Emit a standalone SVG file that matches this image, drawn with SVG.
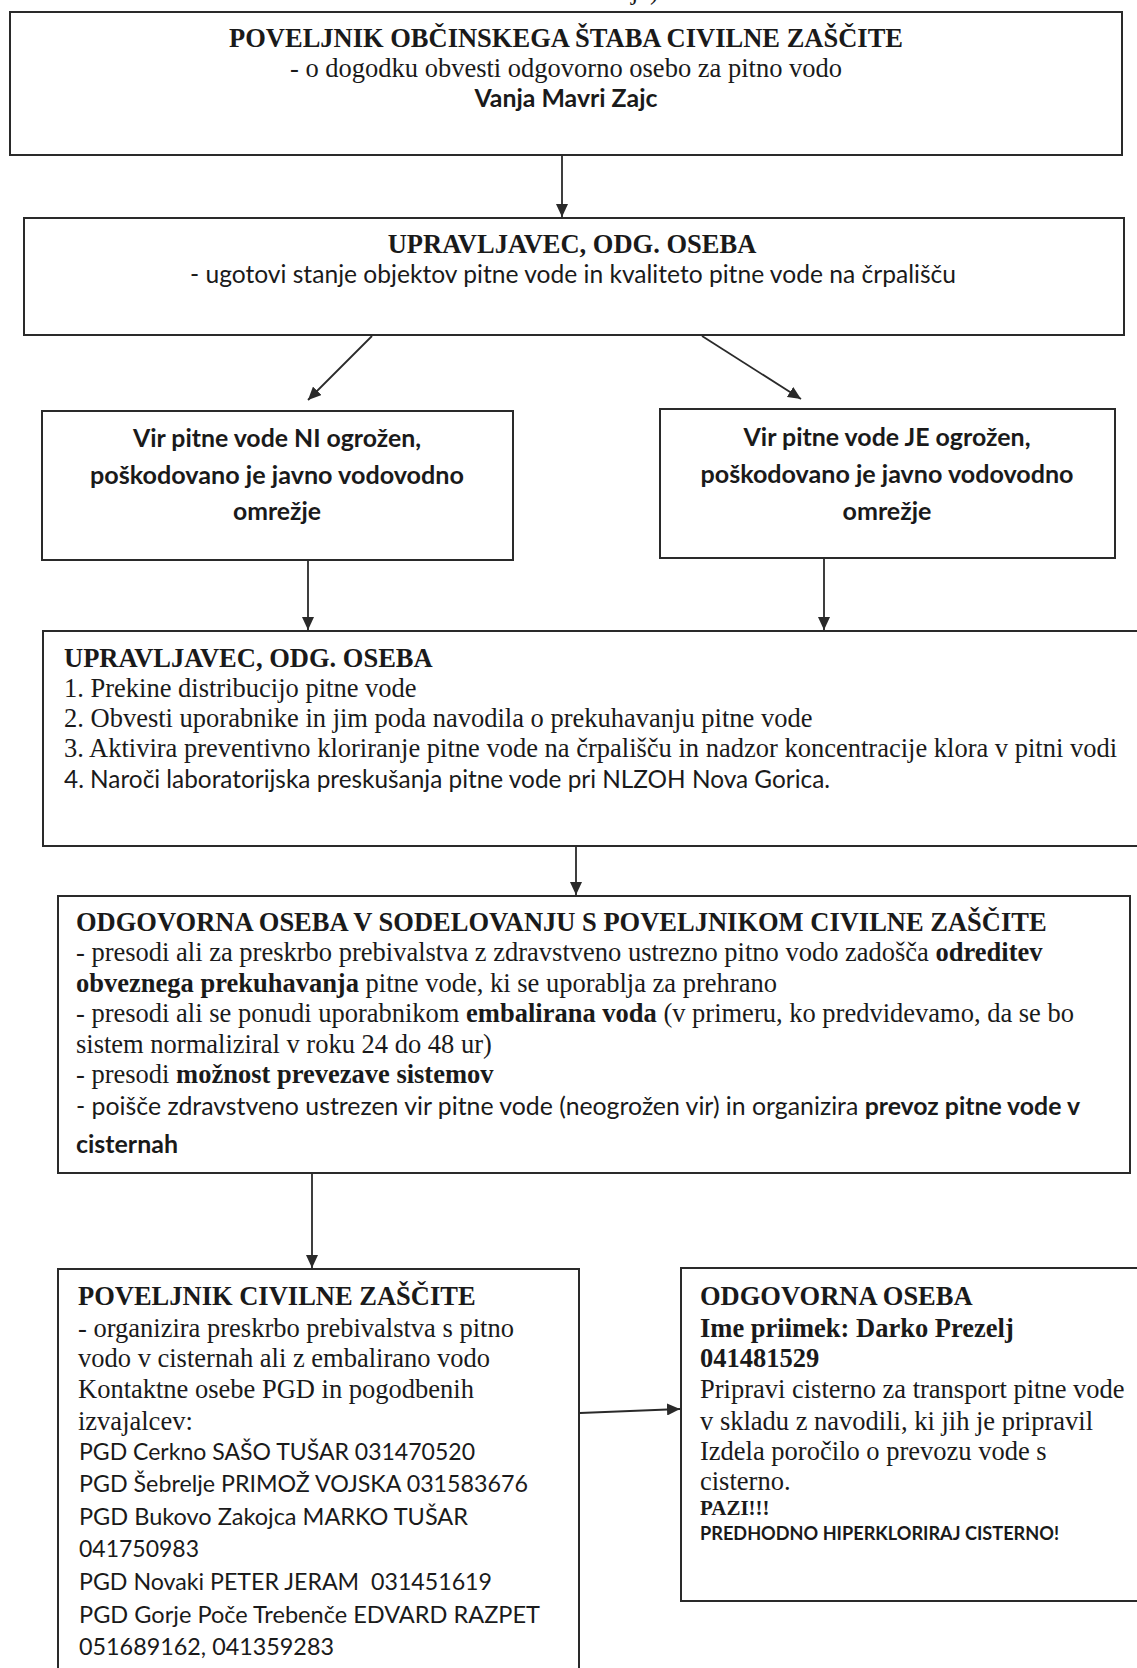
<svg xmlns="http://www.w3.org/2000/svg" width="1137" height="1668" viewBox="0 0 1137 1668">
<style>
.box{fill:#fff;stroke:#2a2a2a;stroke-width:2}
.edge{fill:none;stroke:#2a2a2a;stroke-width:2}
.conn{fill:none;stroke:#2a2a2a;stroke-width:1.8;marker-end:url(#ah)}
.sf{font-family:"Liberation Serif","Times New Roman",serif;font-size:26.5px;fill:#1a1a1a}
.ss{font-family:Lato,"Noto Sans",sans-serif;font-size:24.5px;fill:#1a1a1a}
.sl{font-size:23px}
.b{font-weight:bold}
.c{text-anchor:middle}
</style>
<defs>
<marker id="ah" viewBox="0 0 13 12" refX="13" refY="6" markerWidth="13" markerHeight="12" orient="auto" markerUnits="userSpaceOnUse">
<path d="M0,0 L13,6 L0,12 z" fill="#2a2a2a"/>
</marker>
</defs>
<rect width="1137" height="1668" fill="#fff"/>
<text class="sf" x="631" y="-1">ja)</text>

<g id="n1">
<rect class="box" x="10" y="12" width="1112" height="143"/>
<text class="sf b c" x="566" y="47">POVELJNIK OBČINSKEGA ŠTABA CIVILNE ZAŠČITE</text>
<text class="sf c" x="566" y="77">- o dogodku obvesti odgovorno osebo za pitno vodo</text>
<text class="ss b c" x="566" y="107" textLength="183" lengthAdjust="spacingAndGlyphs">Vanja Mavri Zajc</text>
</g>

<g id="n2">
<rect class="box" x="24" y="218" width="1100" height="117"/>
<text class="sf b c" x="572" y="253">UPRAVLJAVEC, ODG. OSEBA</text>
<text class="ss c" x="573" y="283" textLength="766" lengthAdjust="spacingAndGlyphs">- ugotovi stanje objektov pitne vode in kvaliteto pitne vode na črpališču</text>
</g>

<g id="n3">
<rect class="box" x="42" y="411" width="471" height="149"/>
<text class="ss b c" x="277" y="447" textLength="288" lengthAdjust="spacingAndGlyphs">Vir pitne vode NI ogrožen,</text>
<text class="ss b c" x="277" y="484" textLength="374" lengthAdjust="spacingAndGlyphs">poškodovano je javno vodovodno</text>
<text class="ss b c" x="277" y="520" textLength="88" lengthAdjust="spacingAndGlyphs">omrežje</text>
</g>

<g id="n4">
<rect class="box" x="660" y="409" width="455" height="149"/>
<text class="ss b c" x="887" y="446" textLength="287" lengthAdjust="spacingAndGlyphs">Vir pitne vode JE ogrožen,</text>
<text class="ss b c" x="887" y="483" textLength="373" lengthAdjust="spacingAndGlyphs">poškodovano je javno vodovodno</text>
<text class="ss b c" x="887" y="520" textLength="89" lengthAdjust="spacingAndGlyphs">omrežje</text>
</g>

<g id="n5">
<rect class="box" x="43" y="631" width="1110" height="215"/>
<text class="sf b" x="64" y="667">UPRAVLJAVEC, ODG. OSEBA</text>
<text class="sf" x="64" y="697">1. Prekine distribucijo pitne vode</text>
<text class="sf" x="64" y="727">2. Obvesti uporabnike in jim poda navodila o prekuhavanju pitne vode</text>
<text class="sf" x="64" y="757">3. Aktivira preventivno kloriranje pitne vode na črpališču in nadzor koncentracije klora v pitni vodi</text>
<text class="ss" x="64" y="788" textLength="766" lengthAdjust="spacingAndGlyphs">4. Naroči laboratorijska preskušanja pitne vode pri NLZOH Nova Gorica.</text>
</g>

<g id="n6">
<rect class="box" x="58" y="896" width="1072" height="277"/>
<text class="sf b" x="76" y="931">ODGOVORNA OSEBA V SODELOVANJU S POVELJNIKOM CIVILNE ZAŠČITE</text>
<text class="sf" x="76" y="961">- presodi ali za preskrbo prebivalstva z zdravstveno ustrezno pitno vodo zadošča <tspan class="b">odreditev</tspan></text>
<text class="sf" x="76" y="992"><tspan class="b">obveznega prekuhavanja</tspan> pitne vode, ki se uporablja za prehrano</text>
<text class="sf" x="76" y="1022">- presodi ali se ponudi uporabnikom <tspan class="b">embalirana voda</tspan> (v primeru, ko predvidevamo, da se bo</text>
<text class="sf" x="76" y="1053">sistem normaliziral v roku 24 do 48 ur)</text>
<text class="sf" x="76" y="1083">- presodi <tspan class="b">možnost prevezave sistemov</tspan></text>
<text class="ss" x="76" y="1115" textLength="1004" lengthAdjust="spacingAndGlyphs">- poišče zdravstveno ustrezen vir pitne vode (neogrožen vir) in organizira <tspan class="b">prevoz pitne vode v</tspan></text>
<text class="ss b" x="76" y="1153" textLength="102" lengthAdjust="spacingAndGlyphs">cisternah</text>
</g>

<g id="n7">
<path class="edge" d="M58,1680 V1269 H579 V1680"/>
<text class="sf b" x="78" y="1305">POVELJNIK CIVILNE ZAŠČITE</text>
<text class="sf" x="78" y="1337">- organizira preskrbo prebivalstva s pitno</text>
<text class="sf" x="78" y="1367">vodo v cisternah ali z embalirano vodo</text>
<text class="sf" x="78" y="1398">Kontaktne osebe PGD in pogodbenih</text>
<text class="sf" x="78" y="1430">izvajalcev:</text>
<text class="ss sl" x="79" y="1460" textLength="396" lengthAdjust="spacingAndGlyphs">PGD Cerkno SAŠO TUŠAR 031470520</text>
<text class="ss sl" x="79" y="1492" textLength="449" lengthAdjust="spacingAndGlyphs">PGD Šebrelje PRIMOŽ VOJSKA 031583676</text>
<text class="ss sl" x="79" y="1525" textLength="389" lengthAdjust="spacingAndGlyphs">PGD Bukovo Zakojca MARKO TUŠAR</text>
<text class="ss sl" x="79" y="1557" textLength="120" lengthAdjust="spacingAndGlyphs">041750983</text>
<text class="ss sl" x="79" y="1590" textLength="413" lengthAdjust="spacingAndGlyphs" xml:space="preserve">PGD Novaki PETER JERAM  031451619</text>
<text class="ss sl" x="79" y="1623" textLength="461" lengthAdjust="spacingAndGlyphs">PGD Gorje Poče Trebenče EDVARD RAZPET</text>
<text class="ss sl" x="79" y="1655" textLength="255" lengthAdjust="spacingAndGlyphs">051689162, 041359283</text>
</g>

<g id="n8">
<path class="edge" d="M1145,1268 H681 V1601 H1145"/>
<text class="sf b" x="700" y="1305">ODGOVORNA OSEBA</text>
<text class="sf b" x="700" y="1337">Ime priimek: Darko Prezelj</text>
<text class="sf b" x="700" y="1367">041481529</text>
<text class="sf" x="700" y="1398">Pripravi cisterno za transport pitne vode</text>
<text class="sf" x="700" y="1430">v skladu z navodili, ki jih je pripravil</text>
<text class="sf" x="700" y="1460">Izdela poročilo o prevozu vode s</text>
<text class="sf" x="700" y="1490">cisterno.</text>
<text class="sf b" x="700" y="1515" style="font-size:21px">PAZI!!!</text>
<text class="ss b" x="700" y="1540" style="font-size:18.5px" textLength="359" lengthAdjust="spacingAndGlyphs">PREDHODNO HIPERKLORIRAJ CISTERNO!</text>
</g>

<g id="connectors">
<line class="conn" x1="562" y1="156" x2="562" y2="217"/>
<line class="conn" x1="372" y1="336" x2="308" y2="400"/>
<line class="conn" x1="702" y1="336" x2="801" y2="399"/>
<line class="conn" x1="308" y1="561" x2="308" y2="630"/>
<line class="conn" x1="824" y1="559" x2="824" y2="630"/>
<line class="conn" x1="576" y1="847" x2="576" y2="895"/>
<line class="conn" x1="312" y1="1174" x2="312" y2="1268"/>
<line class="conn" x1="580" y1="1413" x2="680" y2="1409"/>
</g>
</svg>
